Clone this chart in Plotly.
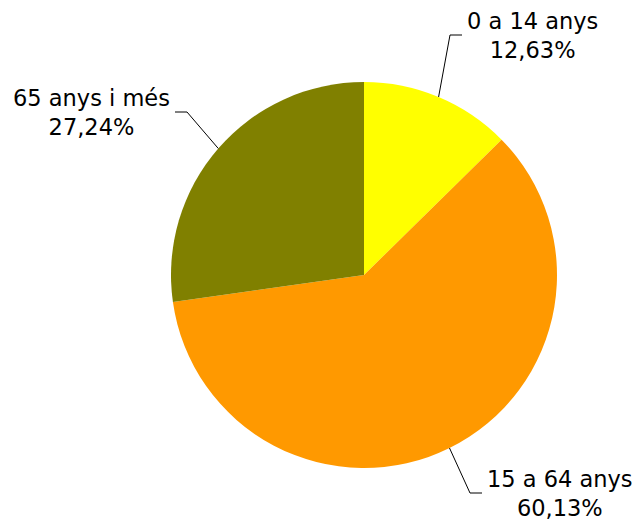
import math
import plotly.graph_objects as go

# data
labels = ["0 a 14 anys", "15 a 64 anys", "65 anys i més"]
values = [12.63, 60.13, 27.24]
colors = ["#FFFF00", "#FF9900", "#808000"]

W, H = 634, 521
cx, cy, r = 364, 275, 193

# elbow of each leader line (pixels) and which side the text sits on
elbows = [(450, 35), (470, 493), (187, 112)]
sides = ["right", "right", "left"]

fig = go.Figure(go.Pie(labels=labels, values=values, sort=False,
                       direction="clockwise", rotation=0,
                       marker=dict(colors=colors, line=dict(width=0)),
                       textinfo="none", hoverinfo="label+percent",
                       domain=dict(x=[(cx - r) / W, (cx + r) / W],
                                   y=[1 - (cy + r) / H, 1 - (cy - r) / H])))

total = sum(values)
start = 0
shapes = []
annotations = []
for lab, v, (ex, ey), side in zip(labels, values, elbows, sides):
    mid = (start + v / 2) / total * 2 * math.pi
    start += v
    px_ = cx + r * math.sin(mid)
    py_ = cy - r * math.cos(mid)
    endx = ex + 12 if side == "right" else ex - 12
    shapes.append(dict(type="path", xref="x", yref="y",
                       path=f"M{px_},{py_} L{ex},{ey} L{endx},{ey}",
                       line=dict(color="black", width=1)))
    pct = f"{v:.2f}".replace(".", ",") + "%"
    annotations.append(dict(xref="x", yref="y", x=endx + (3 if side == "right" else -3), y=ey,
                            text=f"{lab}<br>{pct}", showarrow=False, align="center",
                            xanchor="left" if side == "right" else "right", yanchor="middle",
                            font=dict(family="DejaVu Sans", size=22.5, color="black")))

fig.update_layout(width=W, height=H, margin=dict(l=0, r=0, t=0, b=0),
                  paper_bgcolor="white", plot_bgcolor="rgba(0,0,0,0)",
                  showlegend=False,
                  xaxis=dict(range=[0, W], visible=False, fixedrange=True),
                  yaxis=dict(range=[H, 0], visible=False, fixedrange=True),
                  shapes=shapes, annotations=annotations)

# drop the browser's default body margin so the figure sits at the corner
fig.write_html("out.html", config={"displayModeBar": False},
               post_script="document.body.style.margin='0';")
